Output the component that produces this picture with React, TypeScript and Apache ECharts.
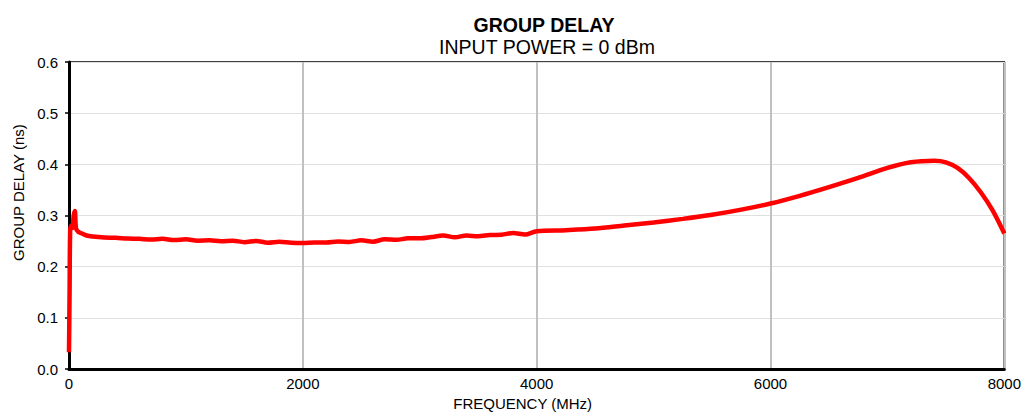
import React, { useEffect, useRef } from "react";
import * as echarts from "echarts";

const freqMHz: number[] = [
  0, 5, 10, 20, 30, 40, 50, 60, 80, 100, 150, 200, 300, 400, 500, 600, 700, 800, 900,
  1000, 1100, 1200, 1300, 1400, 1500, 1600, 1700, 1800, 1900, 2000, 2100, 2200, 2300,
  2400, 2500, 2600, 2700, 2800, 2900, 3000, 3100, 3200, 3300, 3400, 3500, 3600, 3700,
  3800, 3900, 4000, 4250, 4500, 4750, 5000, 5250, 5500, 5750, 6000, 6250, 6500, 6750,
  7000, 7200, 7400, 7500, 7600, 7700, 7800, 7900, 8000,
];

const delayNs: number[] = [
  0.033, 0.15, 0.27, 0.28, 0.276, 0.3, 0.309, 0.275, 0.268, 0.266, 0.261, 0.259, 0.257,
  0.2565, 0.255, 0.2545, 0.253, 0.2545, 0.252, 0.2535, 0.251, 0.2515, 0.25, 0.251,
  0.248, 0.2505, 0.247, 0.249, 0.247, 0.2465, 0.2475, 0.2475, 0.2495, 0.2485, 0.2515,
  0.249, 0.2535, 0.2525, 0.2555, 0.2555, 0.258, 0.261, 0.2575, 0.261, 0.2595, 0.262,
  0.2625, 0.266, 0.263, 0.2695, 0.2715, 0.2745, 0.2805, 0.2865, 0.2935, 0.3015, 0.3115,
  0.3235, 0.3385, 0.3555, 0.3735, 0.393, 0.404, 0.407, 0.404, 0.393, 0.373, 0.345, 0.31,
  0.265,
];

const xTicks: number[] = [0, 2000, 4000, 6000, 8000];
const yTicks: number[] = [0, 0.1, 0.2, 0.3, 0.4, 0.5, 0.6];

const titleText = "GROUP DELAY";
const subtitleText = "INPUT POWER = 0 dBm";
const xName = "FREQUENCY (MHz)";
const yName = "GROUP DELAY (ns)";

const FONT = "'Liberation Sans', Arial, sans-serif";

export default function App() {
  const ref = useRef<HTMLDivElement>(null);

  useEffect(() => {
    if (!ref.current) return;
    const chart = echarts.init(ref.current, undefined, { renderer: "svg" });
    const data = freqMHz.map((f, i) => [f, delayNs[i]]);
    chart.setOption({
      animation: false,
      backgroundColor: "#ffffff",
      textStyle: { fontFamily: FONT },
      title: [
        {
          text: titleText,
          left: 539,
          top: 10,
          textAlign: "center",
          textStyle: { fontFamily: FONT, fontSize: 19.5, fontWeight: "bold", color: "#000" },
        },
        {
          text: subtitleText,
          left: 542,
          top: 32,
          textAlign: "center",
          textStyle: { fontFamily: FONT, fontSize: 19.5, fontWeight: "normal", color: "#000" },
        },
      ],
      grid: {
        left: 69,
        right: 18,
        top: 62,
        bottom: 44,
        show: true,
        borderColor: "#000",
        borderWidth: 1.5,
        backgroundColor: "transparent",
      },
      xAxis: {
        type: "value",
        min: 0,
        max: 8000,
        interval: 2000,
        name: xName,
        nameLocation: "middle",
        nameGap: 26,
        nameTextStyle: { fontFamily: FONT, fontSize: 15, color: "#000", padding: [0, 28, 0, 0] },
        axisLine: { show: true, onZero: false, lineStyle: { color: "#000", width: 3 } },
        axisTick: { show: false },
        axisLabel: {
          fontFamily: FONT,
          fontSize: 15,
          color: "#000",
          margin: 7,
          formatter: (v: number) => {
            const t = xTicks.find((x) => Math.abs(x - v) < 1e-6);
            return String(t !== undefined ? t : v);
          },
        },
        splitLine: { show: true, lineStyle: { color: "#c0c0c0", width: 2 } },
      },
      yAxis: {
        type: "value",
        min: 0,
        max: 0.6,
        interval: 0.1,
        name: yName,
        nameLocation: "middle",
        nameGap: 43,
        nameTextStyle: { fontFamily: FONT, fontSize: 15, color: "#000", padding: [0, 0, 0, 46] },
        axisLine: { show: true, lineStyle: { color: "#000", width: 3 } },
        axisTick: { show: true, inside: false, length: 4, lineStyle: { color: "#000", width: 1.5 } },
        axisLabel: {
          fontFamily: FONT,
          fontSize: 15,
          color: "#000",
          margin: 11,
          formatter: (v: number) => {
            const t = yTicks.find((y) => Math.abs(y - v) < 1e-9);
            return (t !== undefined ? t : v).toFixed(1);
          },
        },
        splitLine: { show: true, lineStyle: { color: "#e0e0e0", width: 1 } },
      },
      series: [
        {
          type: "line",
          data,
          showSymbol: false,
          smooth: 0.3,
          lineStyle: { color: "#ff0000", width: 4.5 },
          z: 3,
        },
      ],
    });
    return () => chart.dispose();
  }, []);

  return (
    <div
      ref={ref}
      style={{ position: "fixed", left: 0, top: 0, width: 1024, height: 416 }}
    />
  );
}
